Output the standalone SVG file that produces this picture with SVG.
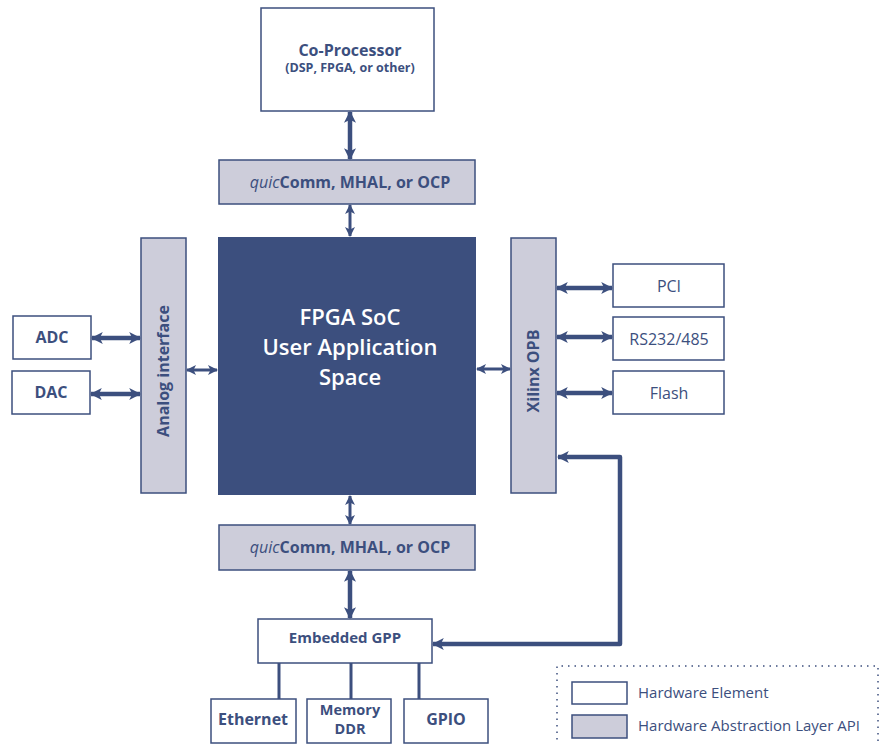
<svg xmlns="http://www.w3.org/2000/svg" width="886" height="744" viewBox="0 0 886 744">
  <style>
    text { font-family: "Open Sans", "Noto Sans", "DejaVu Sans", sans-serif; fill: #3c4f7e; text-anchor: middle; }
    .hw { fill: #ffffff; stroke: #3c4f7e; stroke-width: 1.5; }
    .hal { fill: #cdcdda; stroke: #3c4f7e; stroke-width: 1.5; }
    .b { font-weight: 700; }
    .lbl { font-size: 16px; font-weight: 700; }
    .reg { font-size: 16px; font-weight: 400; }
    .leg { font-size: 15px; font-weight: 400; text-anchor: start; }
    .core { fill: #ffffff; font-size: 22px; font-weight: 600; }
    .wire { stroke: #3c4f7e; fill: none; }
  </style>
  <defs>
    <marker id="ah" viewBox="0 0 10 10" refX="9" refY="5" markerWidth="10" markerHeight="10" markerUnits="userSpaceOnUse" orient="auto-start-reverse">
      <path d="M0,0 L10,5 L0,10 L2.5,5 Z" fill="#3c4f7e"/>
    </marker>
    <marker id="ahs" viewBox="0 0 10 10" refX="9" refY="5" markerWidth="12" markerHeight="12" markerUnits="userSpaceOnUse" orient="auto-start-reverse">
      <path d="M0,0 L10,5 L0,10 L2.5,5 Z" fill="#3c4f7e"/>
    </marker>
  </defs>

  <!-- Co-processor -->
  <g id="coprocessor">
    <rect class="hw" x="261" y="8" width="173" height="103"/>
    <text x="350" y="56" class="lbl">Co-Processor</text>
    <text x="350" y="72" class="b" font-size="12.5">(DSP, FPGA, or other)</text>
  </g>

  <!-- Upper communication layer -->
  <g id="hal-top">
    <rect class="hal" x="219" y="160" width="256" height="44"/>
    <text x="350" y="188" font-size="16"><tspan font-style="italic" font-weight="400">quic</tspan><tspan font-weight="700">Comm, MHAL, or OCP</tspan></text>
  </g>

  <!-- FPGA fabric -->
  <g id="fpga">
    <rect x="218" y="237" width="258" height="258" fill="#3c4f7e"/>
    <text x="350" y="325" class="core">FPGA SoC</text>
    <text x="350" y="355" class="core">User Application</text>
    <text x="350" y="385" class="core">Space</text>
  </g>

  <!-- Analog interface -->
  <g id="analog-interface">
    <rect class="hal" x="141" y="238" width="45" height="255"/>
    <text transform="translate(169,371) rotate(-90)" class="lbl">Analog interface</text>
  </g>

  <!-- Xilinx OPB -->
  <g id="xilinx-opb">
    <rect class="hal" x="511" y="238" width="45" height="255"/>
    <text transform="translate(539,371) rotate(-90)" class="lbl">Xilinx OPB</text>
  </g>

  <g id="adc">
    <rect class="hw" x="13" y="316" width="78" height="43"/>
    <text x="52" y="343" class="lbl">ADC</text>
  </g>
  <g id="dac">
    <rect class="hw" x="12" y="371" width="78" height="43"/>
    <text x="51" y="398" class="lbl">DAC</text>
  </g>

  <g id="pci">
    <rect class="hw" x="613" y="264" width="111" height="43"/>
    <text x="669" y="292" class="reg">PCI</text>
  </g>
  <g id="rs232">
    <rect class="hw" x="613" y="317" width="111" height="43"/>
    <text x="669" y="345" class="reg">RS232/485</text>
  </g>
  <g id="flash">
    <rect class="hw" x="613" y="371" width="111" height="43"/>
    <text x="669" y="399" class="reg">Flash</text>
  </g>

  <!-- Lower communication layer -->
  <g id="hal-bottom">
    <rect class="hal" x="219" y="525" width="256" height="45"/>
    <text x="350" y="553" font-size="16"><tspan font-style="italic" font-weight="400">quic</tspan><tspan font-weight="700">Comm, MHAL, or OCP</tspan></text>
  </g>

  <g id="gpp">
    <rect class="hw" x="258" y="619" width="174" height="44"/>
    <text x="345" y="643" class="b" font-size="15">Embedded GPP</text>
  </g>

  <g id="ethernet">
    <rect class="hw" x="211" y="699" width="85" height="44"/>
    <text x="253" y="725" class="lbl">Ethernet</text>
  </g>
  <g id="memory">
    <rect class="hw" x="307" y="699" width="84" height="44"/>
    <text x="350" y="715" class="b" font-size="14.5">Memory</text>
    <text x="350" y="734" class="b" font-size="14.5">DDR</text>
  </g>
  <g id="gpio">
    <rect class="hw" x="404" y="699" width="84" height="44"/>
    <text x="446" y="725" class="lbl">GPIO</text>
  </g>

  <!-- Connectors -->
  <g id="connectors">
    <line class="wire" x1="350" y1="112" x2="350" y2="159" stroke-width="4.5" marker-start="url(#ahs)" marker-end="url(#ahs)"/>
    <line class="wire" x1="350" y1="205" x2="350" y2="236" stroke-width="3" marker-start="url(#ah)" marker-end="url(#ah)"/>
    <line class="wire" x1="350" y1="496" x2="350" y2="524" stroke-width="3" marker-start="url(#ah)" marker-end="url(#ah)"/>
    <line class="wire" x1="350" y1="571" x2="350" y2="618" stroke-width="4.5" marker-start="url(#ahs)" marker-end="url(#ahs)"/>

    <line class="wire" x1="92" y1="338" x2="140" y2="338" stroke-width="4.5" marker-start="url(#ahs)" marker-end="url(#ahs)"/>
    <line class="wire" x1="91" y1="394" x2="140" y2="394" stroke-width="4.5" marker-start="url(#ahs)" marker-end="url(#ahs)"/>
    <line class="wire" x1="187" y1="370" x2="217" y2="370" stroke-width="3" marker-start="url(#ah)" marker-end="url(#ah)"/>
    <line class="wire" x1="477" y1="369" x2="510" y2="369" stroke-width="3" marker-start="url(#ah)" marker-end="url(#ah)"/>

    <line class="wire" x1="557" y1="288" x2="612" y2="288" stroke-width="4.5" marker-start="url(#ahs)" marker-end="url(#ahs)"/>
    <line class="wire" x1="557" y1="337" x2="612" y2="337" stroke-width="4.5" marker-start="url(#ahs)" marker-end="url(#ahs)"/>
    <line class="wire" x1="557" y1="393" x2="612" y2="393" stroke-width="4.5" marker-start="url(#ahs)" marker-end="url(#ahs)"/>

    <path class="wire" d="M433,644 H620 V457 H558" stroke-width="4.5" stroke-linejoin="round" marker-start="url(#ahs)" marker-end="url(#ahs)"/>

    <line class="wire" x1="279" y1="663" x2="279" y2="699" stroke-width="3"/>
    <line class="wire" x1="351" y1="663" x2="351" y2="699" stroke-width="3"/>
    <line class="wire" x1="419" y1="663" x2="419" y2="699" stroke-width="3"/>
  </g>

  <!-- Legend -->
  <g id="legend">
    <path d="M557,746 V666 H878 V746" fill="none" stroke="#3c4f7e" stroke-width="1.5" stroke-dasharray="1.5,5"/>
    <rect class="hw" x="572" y="682" width="55" height="22"/>
    <text x="638" y="698" class="leg">Hardware Element</text>
    <rect class="hal" x="572" y="715" width="55" height="23"/>
    <text x="638" y="731" class="leg">Hardware Abstraction Layer API</text>
  </g>
</svg>
